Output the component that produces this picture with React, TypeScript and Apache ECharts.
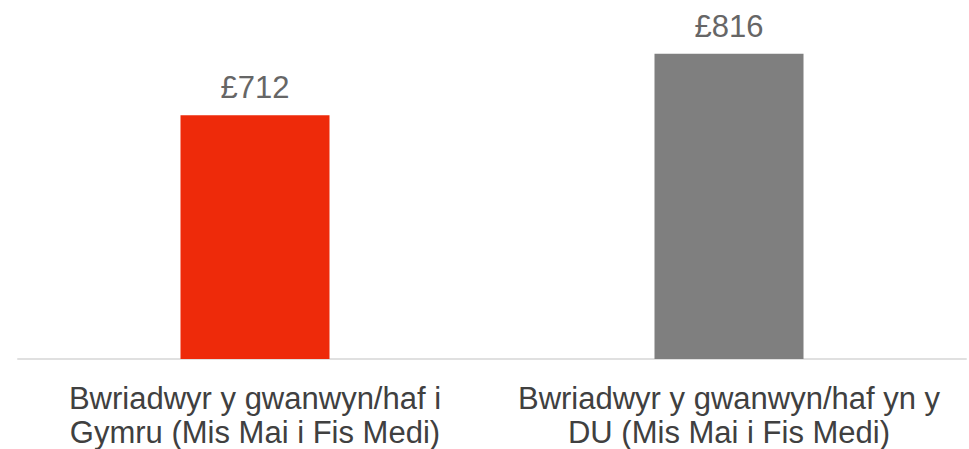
import React, { useEffect, useRef } from "react";
import * as echarts from "echarts";

const categories = [
  "Bwriadwyr y gwanwyn/haf i\nGymru (Mis Mai i Fis Medi)",
  "Bwriadwyr y gwanwyn/haf yn y\nDU (Mis Mai i Fis Medi)",
];
const values = [712, 816];
const barColors = ["#EE2A0A", "#7F7F7F"];

export default function App() {
  const ref = useRef<HTMLDivElement>(null);
  useEffect(() => {
    if (!ref.current) return;
    const chart = echarts.init(ref.current, null, { renderer: "svg" });
    chart.setOption({
      animation: false,
      backgroundColor: "#ffffff",
      grid: { left: 18, right: 3, top: 4, bottom: 90, containLabel: false },
      xAxis: {
        type: "category",
        data: categories,
        axisLine: { show: true, lineStyle: { color: "#E0E0E0", width: 2 } },
        axisTick: { show: false },
        axisLabel: {
          color: "#404040",
          fontFamily: "Liberation Sans",
          fontSize: 31,
          lineHeight: 34,
          margin: 22,
          interval: 0,
        },
      },
      yAxis: {
        type: "value",
        min: 300,
        max: 900,
        show: false,
        splitLine: { show: false },
      },
      series: [
        {
          type: "bar",
          barWidth: 149,
          data: values.map((v, i) => ({ value: v, itemStyle: { color: barColors[i] } })),
          label: {
            show: true,
            position: "top",
            distance: 12,
            formatter: (p: any) => "£" + p.value,
            color: "#666666",
            fontFamily: "Liberation Sans",
            fontSize: 31,
          },
        },
      ],
    });
    return () => chart.dispose();
  }, []);
  return (
    <div
      ref={ref}
      style={{ position: "absolute", left: 0, top: 0, width: 969, height: 449 }}
    />
  );
}
